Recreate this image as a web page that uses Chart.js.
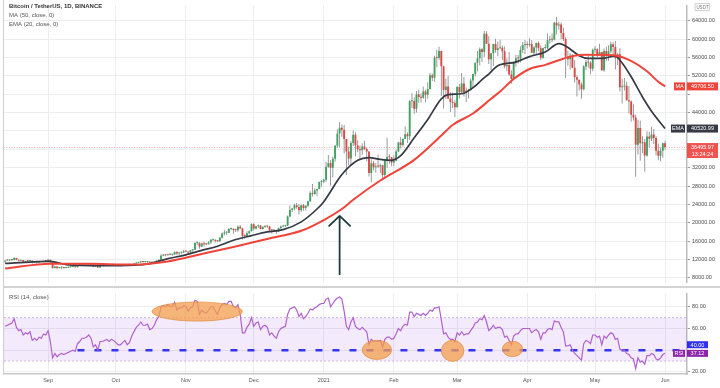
<!DOCTYPE html>
<html>
<head>
<meta charset="utf-8">
<script src="https://cdn.jsdelivr.net/npm/chart.js@4.4.1/dist/chart.umd.min.js"></script>
<style>
  html, body { margin: 0; padding: 0; background: #fff; }
  #wrap { position: relative; width: 720px; height: 388px; overflow: hidden; background: #fff; }
  #mainBox { position: absolute; left: 0; top: 0; width: 720px; height: 288px; }
  #rsiBox { position: absolute; left: 0; top: 288px; width: 720px; height: 100px; }
  #sep { position: absolute; left: 3px; top: 286px; width: 717px; height: 2px; background: #d3d3d3; }
  #leftEdge { position: absolute; left: 3px; top: 0; width: 1px; height: 375px; background: #cfcfcf; }
</style>
</head>
<body>
<div id="wrap">
  <div id="mainBox"><canvas id="main" width="720" height="288"></canvas></div>
  <div id="rsiBox"><canvas id="rsi" width="720" height="100"></canvas></div>
  <div id="sep"></div>
  <div id="leftEdge"></div>
</div>
<script>
// ---------------- DATA ----------------
const START_DATE = '2020-08-13';
const FIRST_OPEN = 11560;

const closes = [
  11780,11770,11865,11910,12300,11950,11750,11870,11530,11680,11650,11760,11350,11470,11330,11530,11470,11710,11650,
  11920,11390,10170,10470,10170,10250,10370,10130,10230,10340,10390,10440,10330,10680,10790,10950,10940,10930,11080,10920,10420,10530,10240,10740,10690,10730,10770,10690,10840,10780,
  10620,10570,10550,10670,10790,10600,10670,10920,11060,11300,11380,11540,11430,11430,11500,11320,11370,11510,11750,11920,12810,12990,12930,13130,13030,13070,13650,13280,13460,13560,13800,
  13760,13550,14030,14150,15590,15590,14840,15480,15330,15300,15700,16280,16320,16070,15960,16720,17650,17800,17820,18660,18700,18420,18370,19160,18740,17150,17140,17720,18180,19700,
  18760,19220,19420,18650,19150,19360,19170,18320,18550,18250,18030,18800,19170,19270,19430,21340,22800,23110,23820,23450,22720,23810,23230,23720,24690,26490,26280,27040,27360,28890,28980,
  29370,32180,33000,31990,33950,36770,39430,40670,40240,38240,35540,34010,37390,39150,36830,36020,35820,36630,36070,35550,30830,32990,32100,32290,32250,32510,30430,33470,34320,34280,33110,
  33530,35510,37470,36930,38290,39260,38870,46450,46510,44840,47970,47410,47230,48590,47910,49140,52120,51570,55920,55890,57410,54090,48900,49680,47060,46280,46110,45140,
  49590,48440,50350,48370,48750,48880,50970,52380,54880,55860,57770,57220,61190,59000,55640,56930,58930,57650,58030,58100,57350,54080,54340,52300,51290,55030,55820,55780,57630,58730,58740,
  58720,58960,57060,58200,59130,57990,55950,58080,58100,59770,59980,59840,63590,62960,63160,61330,60010,56150,55630,56430,53790,51700,51140,50100,49060,54030,55040,54860,53560,57700,
  57800,56580,57170,53200,57440,56400,57360,58860,58260,55860,56700,49500,49680,49840,46710,46430,43540,42910,36990,40620,37300,37530,34660,38800,38320,39240,38480,35690,34620,35680,37300,
  36495.97
];
const highs = [
  11800,12000,11950,11930,12480,12400,12020,11890,11880,11690,11720,11830,11770,11530,11590,11550,11570,11720,11790,
  12090,11950,11460,10630,10570,10350,10400,10430,10350,10480,10400,10480,10560,10800,10940,11100,11040,11040,11180,11060,10990,10580,10540,10790,10760,10790,10800,10950,10860,10850,
  10930,10630,10600,10700,10800,10800,10680,10950,11110,11490,11430,11720,11560,11560,11550,11540,11410,11530,11830,12000,13220,13190,13030,13170,13350,13250,13790,13860,13650,13670,14100,
  13900,13820,14070,14250,15750,15970,15770,15650,15840,15480,15970,16480,16480,16330,16170,16880,17860,18480,18150,18820,18970,18750,18770,19420,19490,18920,17460,18180,18350,19860,
  19920,19310,19600,19530,19180,19420,19390,19280,18640,18560,18290,18950,19410,19350,19570,21560,23770,23290,24170,24300,24100,24000,24100,23790,24780,26870,28420,27500,27400,28990,29300,
  29600,33300,34780,33600,34360,36940,40360,41950,41380,41350,38260,36630,37850,40100,39740,37950,36850,37300,37850,36400,35600,33830,33460,32940,34880,32920,32560,33780,38530,34930,34290,
  34720,35980,37660,38700,38310,40960,39700,46800,48200,47310,48690,48980,48150,49700,49000,50600,52620,52530,56370,57700,58350,57530,54180,51370,52040,48420,48390,46660,
  49790,50200,52640,51770,49450,49200,51450,52400,54900,57390,58150,58060,61840,61690,60600,56940,58980,60100,59470,59880,58590,58420,55830,57200,53240,55080,56600,56560,58400,59370,59800,
  59490,60200,59790,58490,59250,59480,58650,58150,58900,61220,60690,61200,63770,64850,63800,63600,62500,60410,57530,57000,56760,55400,52130,51170,50540,54360,55460,56430,55200,57960,
  58450,57990,59000,57230,57980,58360,58650,59500,59300,59600,56900,58000,51370,51570,50700,49800,46640,45800,43550,42450,42200,38830,38270,39920,39800,40900,40420,38880,37240,36400,37470,
  37890
];
const lows = [
  11280,11650,11690,11690,11840,11810,11560,11670,11500,11380,11520,11600,11120,11260,11150,11290,11440,11460,11580,
  11570,11160,10000,9960,9880,10030,9880,9990,10110,10210,10200,10330,10240,10270,10630,10660,10760,10820,10900,10760,10290,10360,10140,10200,10560,10650,10620,10640,10640,10710,
  10540,10380,10510,10530,10630,10530,10570,10560,10840,11050,11280,11200,11300,11270,11280,11200,11310,11360,11420,11680,11900,12690,12710,12890,12900,12800,13060,12900,12990,13130,13420,
  13600,13200,13290,13530,14090,15180,14350,14700,14810,15090,15280,15440,15950,15710,15770,15870,16560,17210,17340,17760,18420,17610,18000,18020,18580,16330,16500,16880,17520,18180,
  18330,18500,18870,18570,18590,18860,18900,18200,17650,17910,17570,18020,18710,19000,19050,19280,21230,22350,22750,23060,21820,22350,22600,22700,23420,24500,25700,26100,25880,27320,27850,
  28620,28950,31960,28130,29900,33290,36300,36500,38720,35110,30420,32530,32380,36700,34410,35360,33850,34800,35850,33400,30070,28850,31390,30900,31910,30840,29240,29840,31990,32830,32310,
  32300,33420,35360,36160,36570,38220,37350,38020,45020,43730,44000,46130,46200,47000,46250,47000,48950,50900,50710,53860,55480,47620,44890,47000,46950,44110,45000,43000,
  45120,47050,48100,47500,46300,47070,48880,49270,51850,53000,54270,55000,56080,58970,54600,53270,54120,57020,56270,57820,55450,53650,53000,52000,50300,51280,53960,54690,54900,57000,56770,
  57940,58420,56960,56500,56800,57340,55470,55700,57670,57870,59000,59380,59770,61000,62020,60000,59580,51540,54220,53400,53700,50580,47500,48800,47000,48810,53220,53820,52330,53010,
  57030,56030,56480,53050,52900,55200,55270,56970,56250,53400,54370,48600,46000,48800,46560,43820,42000,42250,30000,34850,33490,35200,31110,34390,36420,37800,37170,34690,33630,33380,34150,
  35920
];
const rsiValues = [
  62,63,64,65,69,61,58,59,54,56,55,57,49,51,49,52,51,55,54,
  58,48,33,37,34,36,37,36,37,38,39,40,39,46,48,51,51,52,54,51,43,45,40,48,48,49,50,48,50,49,
  47,45,45,47,49,45,47,53,57,61,63,66,63,63,64,59,60,63,68,71,80,81,80,82,80,80,84,77,79,79,81,
  80,76,79,80,86,85,73,77,75,74,77,80,80,76,73,79,82,83,82,85,85,80,79,82,73,56,56,61,64,70,
  62,65,66,59,62,63,61,54,56,53,51,57,60,61,62,73,78,79,80,77,71,74,69,71,74,78,77,79,80,82,83,
  83,87,88,80,83,86,88,89,87,76,62,59,66,70,62,60,59,61,59,57,45,50,48,48,48,49,43,50,52,52,50,
  51,55,60,58,62,64,63,75,75,71,74,73,72,74,72,74,77,76,79,79,80,68,55,56,52,50,50,48,
  56,54,57,54,55,55,58,61,65,66,69,68,72,66,58,60,63,60,61,61,59,52,53,49,45,53,55,55,58,60,60,
  60,60,56,58,59,57,50,56,56,59,60,59,67,66,66,61,57,44,44,45,40,37,35,33,31,46,49,48,46,54,
  54,52,53,45,53,51,54,56,55,50,51,41,40,40,37,36,33,32,23,33,29,30,27,35,35,37,36,32,31,33,36,
  37.12
];

const maDates = ['2020-08-13','2020-09-02','2020-09-20','2020-10-09','2020-10-24','2020-11-08','2020-11-22','2020-12-07','2020-12-22','2021-01-01','2021-01-09','2021-01-14','2021-01-26','2021-02-10','2021-02-22','2021-02-27','2021-03-08','2021-03-16','2021-03-20','2021-03-26','2021-04-02','2021-04-09','2021-04-15','2021-04-21','2021-04-27','2021-05-09','2021-05-16','2021-05-24','2021-05-29','2021-06-01'];
const maValues = [10040,11100,11050,10900,11580,13200,14740,16480,18250,20600,23000,25000,29200,33700,39000,41300,43800,47000,48600,51300,53500,54400,55400,56300,56600,56500,55500,53000,50700,49706.50];

const emaDates = ['2020-08-13','2020-09-02','2020-09-09','2020-09-24','2020-10-09','2020-10-16','2020-10-24','2020-10-31','2020-11-08','2020-11-15','2020-11-22','2020-11-30','2020-12-07','2020-12-14','2020-12-22','2020-12-29','2021-01-01','2021-01-09','2021-01-16','2021-01-21','2021-01-26','2021-01-31','2021-02-04','2021-02-10','2021-02-16','2021-02-22','2021-02-25','2021-03-03','2021-03-09','2021-03-12','2021-03-15','2021-03-19','2021-03-27','2021-04-02','2021-04-09','2021-04-15','2021-04-18','2021-04-24','2021-04-28','2021-05-04','2021-05-10','2021-05-13','2021-05-17','2021-05-22','2021-05-26','2021-06-01'];
const emaValues = [11150,11580,10900,10650,10750,11100,12200,12900,14000,14900,16200,17200,18000,18500,20200,23000,24600,30500,33600,34200,33800,33600,34600,38500,42500,47000,47900,48100,49800,51200,52400,54200,55000,56200,57200,59000,58500,56400,55800,55800,56300,54800,51800,47400,44300,40520.99];

const monthDates = ['2020-09-01','2020-10-01','2020-11-01','2020-12-01','2021-01-01','2021-02-01','2021-03-01','2021-04-01','2021-05-01','2021-06-01'];
const monthLabels = ['Sep','Oct','Nov','Dec','2021','Feb','Mar','Apr','May','Jun'];
const priceTicks = [8000,12000,16000,20000,24000,28000,32000,36000,40000,44000,48000,52000,56000,60000,64000];
const rsiTicks = [20,40,60,80];
const RSI_BAND = [30, 70];
const RSI_LEVEL = 40;
const RSI_LEVEL_START = '2020-09-14';
const COUNTDOWN = '13:24:24';

const TITLE = 'Bitcoin / TetherUS, 1D, BINANCE';
const LEGEND_MA = 'MA (50, close, 0)';
const LEGEND_EMA = 'EMA (20, close, 0)';
const LEGEND_RSI = 'RSI (14, close)';

// annotations (positions in data units)
const ARROW = { date: '2021-01-08', tip: 21500, tail: 8800 };
const ELLIPSES = [
  { from: '2020-10-17', to: '2020-11-26', low: 66.8, high: 84.4 },
  { from: '2021-01-18', to: '2021-01-31', low: 31.5, high: 49.1 },
  { from: '2021-02-22', to: '2021-03-04', low: 29.7, high: 49.1 },
  { from: '2021-03-21', to: '2021-03-30', low: 34.1, high: 48.2 }
];

// ---------------- SETUP ----------------
const FONT = "'Liberation Sans', Arial, sans-serif";
Chart.defaults.font.family = FONT;
const DAY = 86400000;
const t0 = Date.parse(START_DATE);
const dayIdx = d => Math.round((Date.parse(d) - t0) / DAY);
const N = closes.length;
const X_MIN = -0.5, X_MAX = 301.7;
const Y_MIN = 6947, Y_MAX = 67368;
const R_MIN = 18.1, R_MAX = 92.4;

const UP = '#43a163', DOWN = '#d94a47', WICK = '#8f8f8f';
const MA_COLOR = '#f0443a', EMA_COLOR = '#363a45';
const GRID = '#eceef2';
const RSI_COLOR = '#b161cd';

const opens = closes.map((c, i) => i === 0 ? FIRST_OPEN : closes[i - 1]);
const wickData = closes.map((c, i) => ({ x: i, y: [Math.min(lows[i], opens[i], c), Math.max(highs[i], opens[i], c)] }));
const bodyData = closes.map((c, i) => ({ x: i, y: [opens[i], c] }));
const maData = maDates.map((d, i) => ({ x: dayIdx(d), y: maValues[i] }));
const emaData = emaDates.map((d, i) => ({ x: dayIdx(d), y: emaValues[i] }));
const rsiData = rsiValues.map((v, i) => ({ x: i, y: v }));
const monthIdx = monthDates.map(dayIdx);

function box(ctx, x, yc, w, h, fill, text, color) {
  ctx.fillStyle = fill;
  ctx.fillRect(x, yc - h / 2, w, h);
  ctx.fillStyle = color || '#fff';
  ctx.font = `5.5px ${FONT}`;
  ctx.textAlign = 'center';
  ctx.textBaseline = 'middle';
  ctx.fillText(text, x + w / 2, yc + 0.3);
}

const maLast = maValues[maValues.length - 1];
const emaLast = emaValues[emaValues.length - 1];
const priceLast = closes[N - 1];
const rsiLast = rsiValues[N - 1];
const pxPerPrice = 287 / (Y_MAX - Y_MIN);

const mainDecor = {
  id: 'mainDecor',
  beforeDatasetsDraw(chart) {
    const { ctx, chartArea: ca, scales: { y } } = chart;
    const py = Math.round(y.getPixelForValue(priceLast)) + 0.5;
    ctx.save();
    ctx.strokeStyle = 'rgba(239,83,80,0.45)';
    ctx.lineWidth = 1;
    ctx.setLineDash([1, 1.5]);
    ctx.beginPath(); ctx.moveTo(ca.left, py); ctx.lineTo(ca.right, py); ctx.stroke();
    ctx.restore();
  },
  afterDraw(chart) {
    const { ctx, chartArea: ca, scales: { x, y } } = chart;
    ctx.save();
    ctx.textAlign = 'left'; ctx.textBaseline = 'middle';
    ctx.fillStyle = '#333'; ctx.font = `bold 6px ${FONT}`;
    ctx.fillText(TITLE, 9, 6.7);
    ctx.fillStyle = '#555'; ctx.font = `6px ${FONT}`;
    ctx.fillText(LEGEND_MA, 9, 15.7);
    ctx.fillText(LEGEND_EMA, 9, 24.3);

    // arrow
    const ax = x.getPixelForValue(dayIdx(ARROW.date));
    const at = y.getPixelForValue(ARROW.tip), ab = y.getPixelForValue(ARROW.tail);
    ctx.strokeStyle = '#223b40'; ctx.lineWidth = 1.8; ctx.lineCap = 'round'; ctx.lineJoin = 'round';
    ctx.beginPath();
    ctx.moveTo(ax, ab); ctx.lineTo(ax, at);
    ctx.moveTo(ax - 10.5, at + 10); ctx.lineTo(ax, at); ctx.lineTo(ax + 10.5, at + 10);
    ctx.stroke();

    // right-side labels
    const R = ca.right;
    ctx.fillStyle = '#fff'; ctx.fillRect(695, 3, 15, 8);
    ctx.strokeStyle = '#c4c4c4'; ctx.lineWidth = 0.8; ctx.strokeRect(695.5, 3.5, 14, 7);
    ctx.fillStyle = '#777'; ctx.font = `4.5px ${FONT}`; ctx.textAlign = 'center';
    ctx.fillText('USDT', 702.5, 7.3);

    const yMA = y.getPixelForValue(maLast);
    box(ctx, R - 13, yMA, 11, 8, MA_COLOR, 'MA');
    box(ctx, R, yMA, 31, 8, MA_COLOR, maLast.toFixed(2));
    const yE = y.getPixelForValue(emaLast);
    box(ctx, R - 16, yE, 14, 8, EMA_COLOR, 'EMA');
    box(ctx, R, yE, 31, 8, EMA_COLOR, emaLast.toFixed(2));
    const yP = y.getPixelForValue(priceLast);
    ctx.fillStyle = '#ef5350';
    ctx.fillRect(R, yP - 4, 31, 15);
    ctx.fillStyle = '#fff'; ctx.font = `5.5px ${FONT}`; ctx.textAlign = 'center'; ctx.textBaseline = 'middle';
    ctx.fillText(priceLast.toFixed(2), R + 15.5, yP + 0.3);
    ctx.fillText(COUNTDOWN, R + 15.5, yP + 7.3);
    ctx.restore();
  }
};

new Chart(document.getElementById('main'), {
  type: 'bar',
  data: {
    datasets: [
      { type: 'line', label: 'MA', data: maData, borderColor: MA_COLOR, borderWidth: 2, pointRadius: 0, cubicInterpolationMode: 'monotone', order: 0 },
      { type: 'line', label: 'EMA', data: emaData, borderColor: EMA_COLOR, borderWidth: 1.7, pointRadius: 0, cubicInterpolationMode: 'monotone', order: 0 },
      { type: 'bar', label: 'body', data: bodyData, grouped: false, barThickness: 1.9, minBarLength: 1, inflateAmount: 0, borderWidth: 0, borderSkipped: false,
        backgroundColor: c => (closes[c.dataIndex] >= opens[c.dataIndex] ? UP : DOWN), order: 1 },
      { type: 'bar', label: 'wick', data: wickData, grouped: false, barThickness: 0.9, inflateAmount: 0, borderWidth: 0, borderSkipped: false,
        backgroundColor: WICK, order: 2 }
    ]
  },
  options: {
    responsive: false, animation: false, events: [],
    layout: { padding: { left: 4, right: 0, top: 0, bottom: 1 } },
    plugins: { legend: { display: false }, tooltip: { enabled: false } },
    scales: {
      x: {
        type: 'linear', min: X_MIN, max: X_MAX, offset: false,
        afterBuildTicks: s => { s.ticks = monthIdx.map(v => ({ value: v })); },
        afterFit: s => { s.height = 0; },
        ticks: { display: false },
        grid: { color: GRID, drawTicks: false, offset: false },
        border: { display: false }
      },
      y: {
        position: 'right', min: Y_MIN, max: Y_MAX,
        afterBuildTicks: s => { s.ticks = priceTicks.map(v => ({ value: v })); },
        afterFit: s => { s.width = 33; },
        ticks: {
          padding: 2, color: '#4a4a4a', font: { size: 5.5 },
          callback: v => {
            const near = [maLast, emaLast, priceLast + 800].some(l => Math.abs(l - v) * pxPerPrice < 9);
            return near ? '' : v.toFixed(2);
          }
        },
        grid: { color: GRID, tickLength: 3, tickColor: '#999' },
        border: { color: '#bdbdbd', width: 1.5 }
      }
    }
  },
  plugins: [mainDecor]
});

// ---------------- RSI ----------------
const rsiDecor = {
  id: 'rsiDecor',
  afterDatasetsDraw(chart) {
    const { ctx, scales: { x, y } } = chart;
    ctx.save();
    ELLIPSES.forEach(e => {
      const x1 = x.getPixelForValue(dayIdx(e.from)), x2 = x.getPixelForValue(dayIdx(e.to));
      const y1 = y.getPixelForValue(e.high), y2 = y.getPixelForValue(e.low);
      ctx.beginPath();
      ctx.ellipse((x1 + x2) / 2, (y1 + y2) / 2, (x2 - x1) / 2, (y2 - y1) / 2, 0, 0, Math.PI * 2);
      ctx.fillStyle = 'rgba(244,158,76,0.75)';
      ctx.fill();
      ctx.strokeStyle = 'rgba(222,140,60,0.85)';
      ctx.lineWidth = 0.8;
      ctx.stroke();
    });
    ctx.restore();
  },
  afterDraw(chart) {
    const { ctx, chartArea: ca, scales: { y } } = chart;
    ctx.save();
    ctx.textAlign = 'left'; ctx.textBaseline = 'middle';
    ctx.fillStyle = '#555'; ctx.font = `6px ${FONT}`;
    ctx.fillText(LEGEND_RSI, 9, 9.5);
    const R = ca.right;
    const yL = y.getPixelForValue(RSI_LEVEL) - 5.5;
    box(ctx, R, yL, 21, 7, '#2f2ff0', RSI_LEVEL.toFixed(2));
    const yR = y.getPixelForValue(rsiLast);
    box(ctx, R - 14, yR, 12, 7, '#8e24aa', 'RSI');
    box(ctx, R, yR, 21, 7, '#8e24aa', rsiLast.toFixed(2));
    ctx.restore();
  }
};

new Chart(document.getElementById('rsi'), {
  type: 'line',
  data: {
    datasets: [
      { label: 'upper', data: [{ x: X_MIN, y: RSI_BAND[1] }, { x: X_MAX, y: RSI_BAND[1] }], borderColor: '#cdb9e6', borderWidth: 1, borderDash: [2, 2], pointRadius: 0, fill: false, order: 5 },
      { label: 'lower', data: [{ x: X_MIN, y: RSI_BAND[0] }, { x: X_MAX, y: RSI_BAND[0] }], borderColor: '#cdb9e6', borderWidth: 1, borderDash: [2, 2], pointRadius: 0, fill: '-1', backgroundColor: 'rgba(150,70,230,0.11)', order: 4 },
      { label: 'level', data: [{ x: dayIdx(RSI_LEVEL_START), y: RSI_LEVEL }, { x: X_MAX, y: RSI_LEVEL }], borderColor: '#3434f2', borderWidth: 2.6, borderDash: [7, 10], pointRadius: 0, fill: false, order: 2 },
      { label: 'RSI', data: rsiData, borderColor: RSI_COLOR, borderWidth: 1.2, pointRadius: 0, tension: 0, fill: false, order: 1 }
    ]
  },
  options: {
    responsive: false, animation: false, events: [],
    layout: { padding: { left: 4, right: 0, top: 2, bottom: 0 } },
    plugins: { legend: { display: false }, tooltip: { enabled: false }, filler: { propagate: false } },
    scales: {
      x: {
        type: 'linear', min: X_MIN, max: X_MAX, offset: false,
        afterBuildTicks: s => { s.ticks = monthIdx.map(v => ({ value: v })); },
        afterFit: s => { s.height = 14; },
        ticks: {
          autoSkip: false, maxRotation: 0, padding: 3, color: '#555', font: { size: 5.5 },
          callback: v => { const k = monthIdx.indexOf(v); return k >= 0 ? monthLabels[k] : ''; }
        },
        grid: { color: GRID, drawTicks: false },
        border: { color: '#c8c8c8', width: 1.5 }
      },
      y: {
        position: 'right', min: R_MIN, max: R_MAX,
        afterBuildTicks: s => { s.ticks = rsiTicks.map(v => ({ value: v })); },
        afterFit: s => { s.width = 33; },
        ticks: { padding: 2, color: '#4a4a4a', font: { size: 5.5 }, callback: v => (v === RSI_LEVEL ? '' : v.toFixed(2)) },
        grid: { color: GRID, tickLength: 3, tickColor: '#999' },
        border: { color: '#bdbdbd', width: 1.5 }
      }
    }
  },
  plugins: [rsiDecor]
});
</script>
</body>
</html>
